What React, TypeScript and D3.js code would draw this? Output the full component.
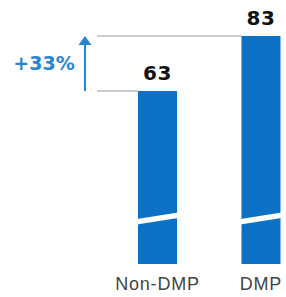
import React from "react";
import * as d3 from "d3";

const categories = ["Non-DMP", "DMP"];
const values = [63, 83];
const changeLabel = "+33%";

const width = 286;
const height = 297;
const barColor = "#0a71c6";
const accent = "#2585d6";

const x = d3.scaleBand().domain(categories).range([138, 280.5]).paddingInner(0.623).paddingOuter(0);
const y = d3.scaleLinear().domain([0, d3.max(values) as number]).range([264, 36]);

const App = () => {
  const bw = x.bandwidth();
  const lineStart = 97;
  const arrowX = 85;
  const lo = y(values[0]);
  const hi = y(values[1]);
  const arrowPath = d3.path();
  arrowPath.moveTo(arrowX - 6.5, hi + 9);
  arrowPath.lineTo(arrowX, hi);
  arrowPath.lineTo(arrowX + 6.5, hi + 9);
  arrowPath.closePath();

  return (
    <svg width={width} height={height} style={{ position: "absolute", left: 0, top: 0 }}>
      {/* reference lines */}
      {categories.map((c, i) => (
        <line key={c} x1={lineStart} x2={x(c) as number} y1={y(values[i])} y2={y(values[i])}
          stroke="#cbcbcb" strokeWidth={2} />
      ))}
      {/* arrow */}
      <line x1={arrowX} x2={arrowX} y1={lo} y2={hi + 7} stroke={accent} strokeWidth={2} />
      <path d={arrowPath.toString()} fill={accent} />
      <text x={44} y={(lo + hi) / 2 + 7} textAnchor="middle" fill={accent}
        style={{ font: "bold 19px 'DejaVu Sans'" }}>{changeLabel}</text>

      {categories.map((c, i) => {
        const x0 = x(c) as number;
        const yb = 222;
        return (
          <g key={c}>
            <rect x={x0} y={y(values[i])} width={bw} height={y(0) - y(values[i])} fill={barColor} />
            <polygon fill="#fff"
              points={`${x0 - 1},${yb - 3} ${x0 + bw + 1},${yb - 9.5} ${x0 + bw + 1},${yb - 4} ${x0 - 1},${yb + 2.5}`} />
            <text x={x0 + bw / 2} y={y(values[i]) - 11} textAnchor="middle" fill="#111"
              style={{ font: "bold 20px 'DejaVu Sans'", letterSpacing: "0.5px" }}>{values[i]}</text>
            <text x={x0 + bw / 2} y={290} textAnchor="middle" fill="#444"
              style={{ font: "18px 'Liberation Sans'", letterSpacing: "0.8px" }}>{c}</text>
          </g>
        );
      })}
    </svg>
  );
};

export default App;
